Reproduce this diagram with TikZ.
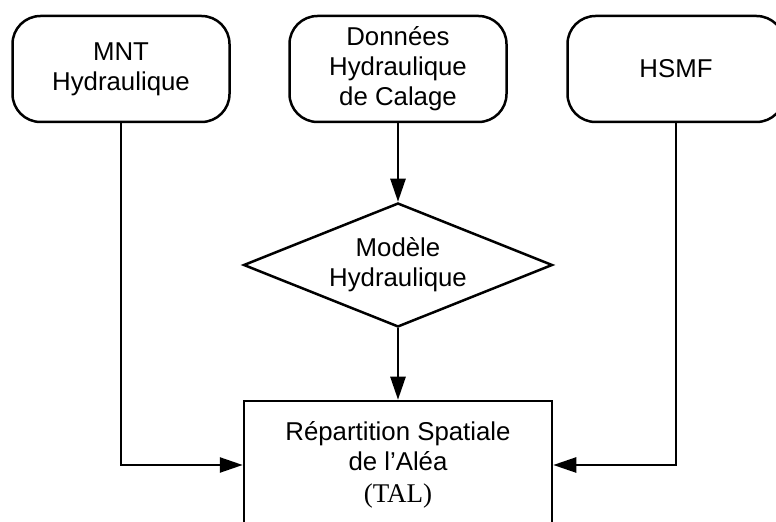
\documentclass[tikz,border=0pt]{standalone}
\usepackage{fontspec}
\setmainfont{Liberation Sans}
\newfontfamily\serifrm{Liberation Serif}
\usetikzlibrary{shapes.geometric,arrows.meta}
\begin{document}
\begin{tikzpicture}[x=0.5pt,y=-0.5pt,
  every node/.style={font=\fontsize{12.9}{15}\selectfont, align=center, inner sep=0pt},
  source/.style={draw, line width=1.25pt, rounded corners=14pt,
    minimum width=108.5pt, minimum height=53pt},
  model/.style={draw, diamond, line width=1.25pt, aspect=2.5,
    minimum width=154.5pt, minimum height=62pt},
  result/.style={draw, rectangle, line width=1.25pt,
    minimum width=154pt, minimum height=64pt},
  flow/.style={line width=1.25pt, -{Triangle[length=11.5pt,width=7.5pt]}},
  link/.style={line width=1.25pt}]
  \useasboundingbox (0,0) rectangle (776,522);
  \clip (0,0) rectangle (776,522);

  % input sources
  \node[source] (mnt)  at (121,69)   {MNT\\Hydraulique};
  \node[source] (cal)  at (398,69)   {Données\\Hydraulique\\de Calage};
  \node[source] (hsmf) at (676,69)   {HSMF};

  % hydraulic model
  \node[model] (mod) at (398,265) {Modèle\\Hydraulique};

  % spatial distribution of the hazard
  \node[result] (rep) at (398,465)
    {Répartition Spatiale\\de l’Aléa\\[1pt]{\serifrm\fontsize{13.5}{15}\selectfont (TAL)}};

  % connectors
  \draw[flow] (cal.south) -- (mod.north);
  \draw[flow] (mod.south) -- (rep.north);
  \draw[flow] (mnt.south) |- (rep.west);
  \draw[flow] (hsmf.south) |- (rep.east);
\end{tikzpicture}
\end{document}
